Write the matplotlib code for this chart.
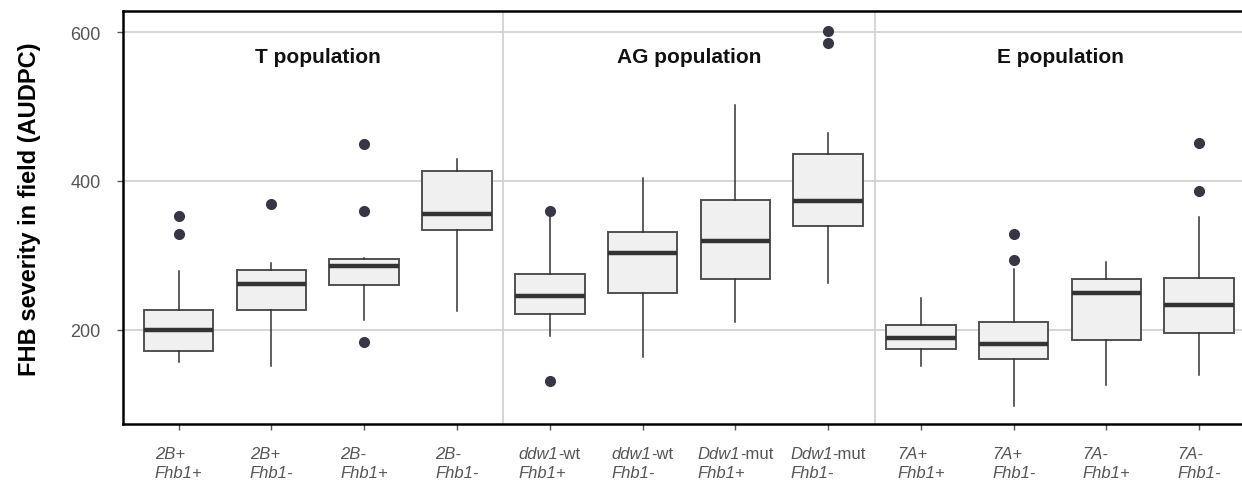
import matplotlib
matplotlib.use("Agg")
import matplotlib.pyplot as plt
from matplotlib.offsetbox import TextArea, HPacker, VPacker, AnnotationBbox

# box statistics per genotype class (AUDPC)
q1 = [172, 227, 260, 334, 222, 250, 269, 339, 175, 161, 186, 196]
med = [200, 262, 286, 355, 246, 303, 319, 373, 189, 181, 250, 233]
q3 = [227, 281, 295, 413, 275, 332, 374, 436, 206, 210, 268, 270]
whislo = [157, 152, 213, 225, 192, 163, 210, 263, 152, 98, 126, 140]
whishi = [279, 290, 297, 429, 355, 404, 502, 464, 243, 282, 291, 351]
fliers = [[353, 329], [369], [450, 360, 184], [],
          [360, 131], [], [], [602, 585],
          [], [329, 294], [], [451, 386]]

# tick labels: (italic part, upright part) on the first line, italic second line
gene_it = ["2B+", "2B+", "2B-", "2B-", "ddw1", "ddw1", "Ddw1", "Ddw1",
           "7A+", "7A+", "7A-", "7A-"]
gene_up = ["", "", "", "", "-wt", "-wt", "-mut", "-mut", "", "", "", ""]
fhb = ["Fhb1+", "Fhb1-", "Fhb1+", "Fhb1-"] * 3

populations = ["T population", "AG population", "E population"]

plt.rcParams["font.family"] = ["Liberation Sans", "DejaVu Sans"]

fig = plt.figure(figsize=(12.42, 4.81), dpi=100)
ax = fig.add_axes([0.0990, 0.1164, 0.9114, 0.8586])

stats = []
for i in range(len(med)):
    stats.append(dict(q1=q1[i], med=med[i], q3=q3[i],
                      whislo=whislo[i], whishi=whishi[i], fliers=fliers[i]))

pos = list(range(len(med)))
ax.bxp(stats, positions=pos, widths=0.75, patch_artist=True, showcaps=False,
       boxprops=dict(facecolor="#f0f0f0", edgecolor="#505050", linewidth=1.4),
       medianprops=dict(color="#333333", linewidth=3.2, solid_capstyle="butt"),
       whiskerprops=dict(color="#333333", linewidth=1.1),
       flierprops=dict(marker="o", markersize=7, markerfacecolor="#363646",
                       markeredgecolor="#363646"),
       zorder=3)

ax.set_xlim(-0.6, 11.6)
ax.set_ylim(73.6, 628.2)
ax.set_yticks([200, 400, 600])
ax.yaxis.grid(True, color="#d2d2d2", linewidth=1.3, zorder=0)
ax.set_axisbelow(True)
for xs in (3.5, 7.5):
    ax.axvline(xs, color="#d2d2d2", linewidth=1.3, zorder=0)

for sp in ("left", "bottom", "top"):
    ax.spines[sp].set_linewidth(1.8)
    ax.spines[sp].set_color("black")
ax.spines["right"].set_visible(False)

ax.tick_params(axis="both", length=4, width=1, color="#555555")
ax.tick_params(axis="y", labelsize=13, labelcolor="#555555", pad=12)
ax.set_xticks(pos)
ax.set_xticklabels([])

# two-line category labels with mixed italic/upright text
base = dict(fontsize=12, color="#555555")
for i in pos:
    parts = [TextArea(gene_it[i], textprops=dict(style="italic", **base))]
    if gene_up[i]:
        parts.append(TextArea(gene_up[i], textprops=base))
    line1 = HPacker(children=parts, pad=0, sep=0)
    line2 = TextArea(fhb[i], textprops=dict(style="italic", **base))
    block = VPacker(children=[line1, line2], align="left", pad=0, sep=3)
    ab = AnnotationBbox(block, (i, 0), xycoords=ax.get_xaxis_transform(),
                        xybox=(0, -16), boxcoords="offset points",
                        box_alignment=(0.5, 1.0), frameon=False,
                        annotation_clip=False)
    ax.add_artist(ab)

for k, name in enumerate(populations):
    ax.text(4 * k + 1.5, 560, name, ha="center", va="baseline",
            fontsize=15, fontweight="bold", color="#111111")

ax.set_ylabel("FHB severity in field (AUDPC)", fontsize=17, fontweight="bold",
              va="center")
ax.yaxis.set_label_coords(-0.083, 0.523)

fig.savefig("out.png", dpi=100)
